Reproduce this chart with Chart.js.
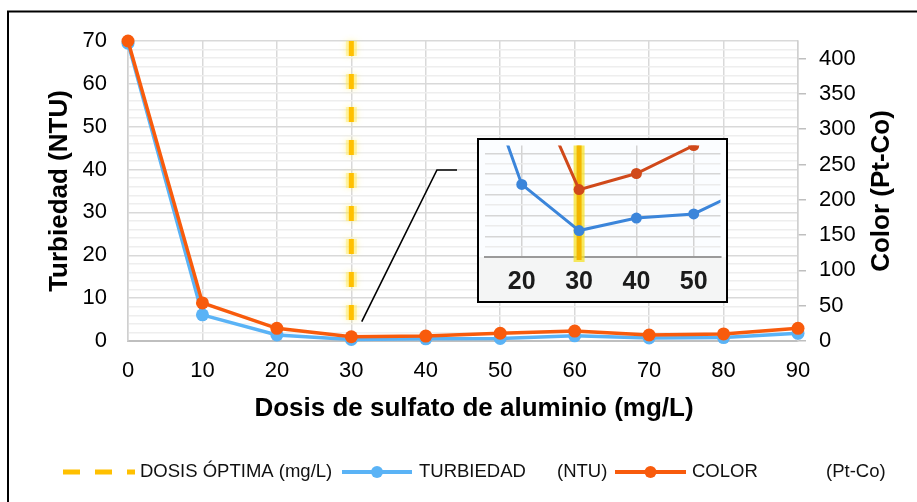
<!DOCTYPE html>
<html>
<head>
<meta charset="utf-8">
<script src="https://cdn.jsdelivr.net/npm/chart.js@4.4.1/dist/chart.umd.min.js"></script>
<style>
  html, body { margin: 0; padding: 0; background: #fff; }
  #wrap { position: relative; width: 917px; height: 502px; overflow: hidden; }
  #main { position: absolute; left: 0; top: 0; }
  #zoomBox { position: absolute; left: 477px; top: 138px; width: 251px; height: 165px;
             border: 2px solid #000; box-sizing: border-box; background: #fff; overflow: hidden; }
  #zoomBox canvas { display: block; filter: blur(0.7px); }
</style>
</head>
<body>
<div id="wrap">
  <canvas id="main" width="917" height="502"></canvas>
  <div id="zoomBox"><canvas id="inset" width="247" height="161"></canvas></div>
</div>
<script>
// Dosis de sulfato de aluminio (mg/L) vs. turbiedad y color
const doses      = [0, 10, 20, 30, 40, 50, 60, 70, 80, 90];
const turbidity  = [69.5, 6.1, 1.4, 0.35, 0.5, 0.6, 1.2, 0.7, 0.8, 1.8];   // NTU
const colorPtCo  = [425, 54, 18, 6, 7, 11, 14, 8.5, 10, 18];             // Pt-Co
const optimalDose = 30;                                                  // mg/L

// Axis ranges / tick steps
const turbidityRange = [0, 70];
const turbidityStep  = 10;
const colorRange     = [0, 425];
const colorStep      = 50;
const doseRange      = [0, 90];
const doseStep       = 10;

// Detail panel around the optimal dose (own vertical units)
const detailDoses     = [10, 20, 30, 40, 50, 60];
const detailTurbidity = [4.5, 1.40, 0.51, 0.75, 0.83, 1.36];
const detailColor     = [8, 3.8, 1.30, 1.61, 2.15, 2.8];
const detailDoseRange = [13.5, 54.67];
const detailTicks     = [20, 30, 40, 50];

const FONT = "'Liberation Sans', Arial, Helvetica, sans-serif";
const BLUE = '#5AB3F6';
const ORANGE = '#F85B0C';
const GOLD = '#FFC000';

const toPoints = (xs, ys) => xs.map((x, i) => ({ x, y: ys[i] }));

const decorations = {
  id: 'decorations',
  beforeDatasetsDraw(chart) {
    const { ctx, chartArea, scales } = chart;
    const x = scales.x.getPixelForValue(optimalDose);
    ctx.save();
    ctx.setLineDash([15, 18]);
    // soft glow under the dashes
    ctx.strokeStyle = 'rgba(255, 232, 90, 0.45)';
    ctx.lineWidth = 11;
    ctx.shadowColor = 'rgba(255, 236, 80, 0.9)';
    ctx.shadowBlur = 6;
    ctx.beginPath();
    ctx.moveTo(x, chartArea.top);
    ctx.lineTo(x, chartArea.bottom);
    ctx.stroke();
    ctx.shadowBlur = 0;
    ctx.strokeStyle = GOLD;
    ctx.lineWidth = 5;
    ctx.beginPath();
    ctx.moveTo(x, chartArea.top);
    ctx.lineTo(x, chartArea.bottom);
    ctx.stroke();
    ctx.restore();
  },
  afterDraw(chart) {
    const { ctx, chartArea, scales } = chart;
    const o = chart.options.plugins.decorations;
    ctx.save();

    // callout leader to the detail panel
    ctx.strokeStyle = '#000';
    ctx.lineWidth = 1.6;
    ctx.beginPath();
    o.callout.forEach(([dx, dy], i) => {
      const px = scales.x.getPixelForValue(dx);
      const py = scales.y.getPixelForValue(dy);
      if (i === 0) ctx.moveTo(px, py); else ctx.lineTo(px, py);
    });
    ctx.stroke();

    // axis titles
    ctx.fillStyle = '#000';
    ctx.font = `bold 26px ${FONT}`;
    ctx.textAlign = 'center';
    ctx.textBaseline = 'middle';
    const cy = (chartArea.top + chartArea.bottom) / 2;
    [[o.leftTitleX, 'Turbiedad (NTU)'], [o.rightTitleX, 'Color (Pt-Co)']].forEach(([tx, txt]) => {
      ctx.save();
      ctx.translate(tx, cy);
      ctx.rotate(-Math.PI / 2);
      ctx.fillText(txt, 0, 0);
      ctx.restore();
    });
    ctx.fillText('Dosis de sulfato de aluminio (mg/L)', o.xTitle[0], o.xTitle[1]);

    // legend
    const ly = o.legendY;
    ctx.font = `18.5px ${FONT}`;
    ctx.textAlign = 'left';
    ctx.fillStyle = '#111';
    ctx.save();
    ctx.strokeStyle = GOLD;
    ctx.lineWidth = 5;
    ctx.setLineDash([17, 15]);
    ctx.beginPath(); ctx.moveTo(63, ly); ctx.lineTo(135, ly); ctx.stroke();
    ctx.restore();
    ctx.fillText('DOSIS ÓPTIMA (mg/L)', 140, ly);

    const sample = (x0, x1, col) => {
      ctx.strokeStyle = col; ctx.fillStyle = col; ctx.lineWidth = 4;
      ctx.beginPath(); ctx.moveTo(x0, ly); ctx.lineTo(x1, ly); ctx.stroke();
      ctx.beginPath(); ctx.arc((x0 + x1) / 2, ly, 6, 0, Math.PI * 2); ctx.fill();
      ctx.fillStyle = '#111';
    };
    sample(342, 412, BLUE);
    ctx.fillText('TURBIEDAD', 419, ly);
    ctx.fillText('(NTU)', 557, ly);
    sample(615, 686, ORANGE);
    ctx.fillText('COLOR', 692, ly);
    ctx.fillText('(Pt-Co)', 826, ly);

    // outer frame
    ctx.strokeStyle = '#000';
    ctx.lineWidth = 2;
    ctx.beginPath();
    ctx.moveTo(8, 502); ctx.lineTo(8, 11.5); ctx.lineTo(917, 11.5);
    ctx.stroke();
    ctx.restore();
  }
};

new Chart(document.getElementById('main'), {
  type: 'line',
  data: {
    datasets: [
      { label: 'COLOR (Pt-Co)', data: toPoints(doses, colorPtCo), yAxisID: 'y2',
        borderColor: ORANGE, backgroundColor: ORANGE, borderWidth: 3.5,
        pointRadius: 6.5, pointBorderWidth: 0, tension: 0, order: 0, clip: false },
      { label: 'TURBIEDAD (NTU)', data: toPoints(doses, turbidity), yAxisID: 'y',
        borderColor: BLUE, backgroundColor: BLUE, borderWidth: 3.5,
        pointRadius: 6.5, pointBorderWidth: 0, tension: 0, order: 1, clip: false }
    ]
  },
  options: {
    responsive: false, animation: false, devicePixelRatio: 1,
    layout: { padding: { top: 41, left: 0, right: 0, bottom: 0 } },
    plugins: {
      legend: { display: false }, tooltip: { enabled: false },
      decorations: {
        callout: [[31.4, 4.5], [41.5, 39.9], [44.2, 39.9]],
        leftTitleX: 60, rightTitleX: 882, xTitle: [474, 409], legendY: 472
      }
    },
    scales: {
      x: {
        type: 'linear', min: doseRange[0], max: doseRange[1],
        afterFit(s) { s.height = 161; },
        ticks: { stepSize: doseStep, font: { family: FONT, size: 22 }, color: '#000', padding: 17, maxRotation: 0 },
        grid: { color: '#d9d9d9', lineWidth: 1.5, drawTicks: false },
        border: { color: '#bfbfbf', width: 2 }
      },
      y: {
        position: 'left', min: turbidityRange[0], max: turbidityRange[1],
        afterFit(s) { s.width = 128; },
        ticks: { stepSize: 2, autoSkip: false, maxTicksLimit: 100,
                 callback: v => (v % turbidityStep === 0 ? v : ''),
                 font: { family: FONT, size: 22 }, color: '#000', padding: 21 },
        grid: { color: c => (c.tick && c.tick.value % turbidityStep === 0 ? '#d9d9d9' : '#eeeeee'),
                lineWidth: 1.5, drawTicks: false },
        border: { color: '#d0d0d0', width: 1.5 }
      },
      y2: {
        position: 'right', min: colorRange[0], max: colorRange[1],
        afterFit(s) { s.width = 119; },
        ticks: { stepSize: colorStep, includeBounds: false, font: { family: FONT, size: 22 }, color: '#000', padding: 13 },
        grid: { drawOnChartArea: false, drawTicks: true, tickLength: 8, color: '#bfbfbf', lineWidth: 1.5 },
        border: { color: '#d0d0d0', width: 1.5 }
      }
    }
  },
  plugins: [decorations]
});

// Detail panel
const detailDecor = {
  id: 'detailDecor',
  beforeDraw(chart) {
    const { ctx, chartArea, width, height } = chart;
    ctx.save();
    ctx.fillStyle = '#fbfdff';
    ctx.fillRect(0, 0, width, chartArea.bottom);
    ctx.fillStyle = '#f4f5f5';
    ctx.fillRect(0, chartArea.bottom, width, height - chartArea.bottom);
    ctx.restore();
  },
  beforeDatasetsDraw(chart) {
    const { ctx, chartArea, scales } = chart;
    const x = scales.x.getPixelForValue(optimalDose);
    ctx.save();
    ctx.lineCap = 'butt';
    ctx.strokeStyle = 'rgba(245, 225, 40, 0.75)';
    ctx.lineWidth = 11;
    ctx.beginPath(); ctx.moveTo(x, chartArea.top); ctx.lineTo(x, chartArea.bottom + 5); ctx.stroke();
    ctx.strokeStyle = '#F3B600';
    ctx.lineWidth = 5;
    ctx.beginPath(); ctx.moveTo(x, chartArea.top); ctx.lineTo(x, chartArea.bottom + 3); ctx.stroke();
    ctx.restore();
  }
};

new Chart(document.getElementById('inset'), {
  type: 'line',
  data: {
    datasets: [
      { data: toPoints(detailDoses, detailColor), borderColor: '#D0491A', backgroundColor: '#D0491A',
        borderWidth: 3, pointRadius: 5.5, pointBorderWidth: 0, tension: 0 },
      { data: toPoints(detailDoses, detailTurbidity), borderColor: '#3B85DA', backgroundColor: '#3B85DA',
        borderWidth: 3, pointRadius: 5.5, pointBorderWidth: 0, tension: 0 }
    ]
  },
  options: {
    responsive: false, animation: false, devicePixelRatio: 1,
    layout: { padding: 0 },
    plugins: { legend: { display: false }, tooltip: { enabled: false } },
    scales: {
      x: {
        type: 'linear', min: detailDoseRange[0], max: detailDoseRange[1],
        afterFit(s) { s.height = 44; },
        afterBuildTicks(s) { s.ticks = detailTicks.map(v => ({ value: v })); },
        ticks: { font: { family: FONT, size: 25, weight: 'bold' }, color: '#1b1b1b', padding: 10, maxRotation: 0 },
        grid: { color: '#d3d3d3', lineWidth: 1.5, drawTicks: false },
        border: { color: '#9a9a9a', width: 2 }
      },
      y: {
        min: 0, max: 2.15,
        afterFit(s) { s.width = 0; },
        ticks: { display: false, stepSize: 0.2, includeBounds: false },
        grid: { color: c => (c.tick && Math.round(c.tick.value * 10) % 4 === 0 ? '#d6d6d6' : '#ececec'),
                lineWidth: 1.5, drawTicks: false },
        border: { display: false }
      }
    }
  },
  plugins: [detailDecor]
});
</script>
</body>
</html>
